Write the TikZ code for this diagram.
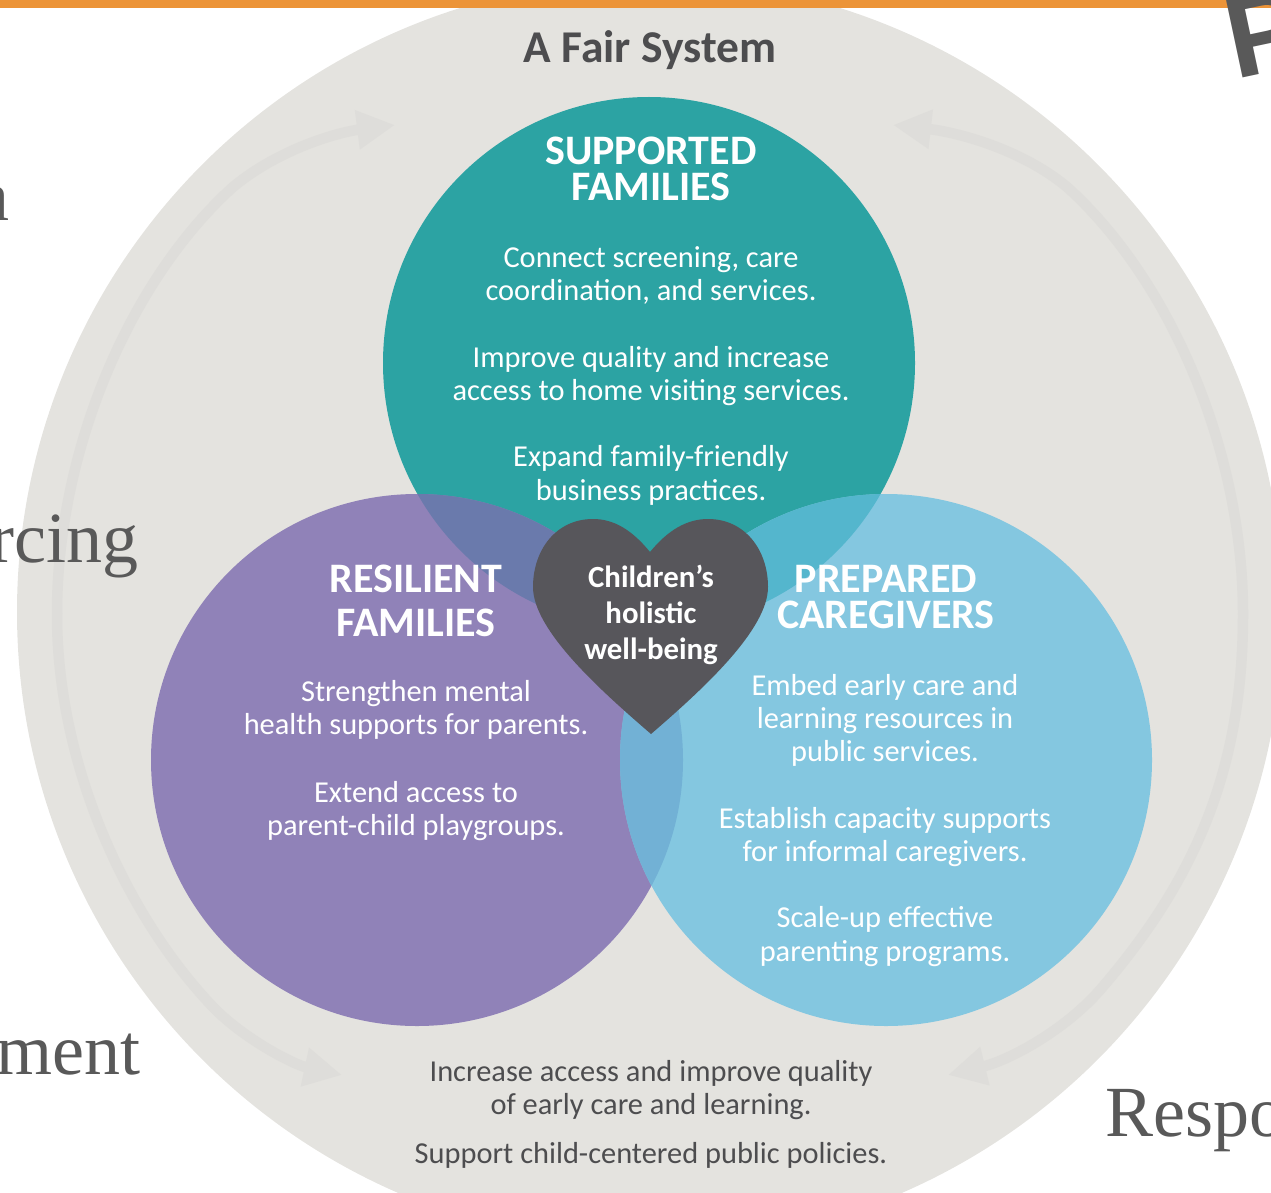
\documentclass[tikz,border=0pt]{standalone}
\usepackage{fontspec}
\usepackage{xcolor}
\usepackage{tikz}
\usetikzlibrary{arrows.meta}
\setmainfont{Carlito}
\newfontfamily\slideserif{Liberation Serif}
\newfontfamily\slidesans{Liberation Sans}
\definecolor{fsOrange}{RGB}{236, 148, 56}
\definecolor{fsRing}{RGB}{228, 227, 223}
\definecolor{fsArrow}{RGB}{222, 221, 218}
\definecolor{fsTeal}{RGB}{44, 163, 163}
\definecolor{fsPurple}{RGB}{144, 130, 184}
\definecolor{fsBlue}{RGB}{132, 199, 224}
\definecolor{fsTealPurple}{RGB}{106, 122, 172}
\definecolor{fsTealBlue}{RGB}{84, 182, 205}
\definecolor{fsPurpleBlue}{RGB}{114, 177, 213}
\definecolor{fsHeart}{RGB}{87, 86, 91}
\definecolor{fsText}{RGB}{77, 77, 79}
\definecolor{fsSlide}{RGB}{89, 89, 89}
\tikzset{
    venn/.style={
        circle,
        minimum size=532pt,
        inner sep=0pt
    },
    heading/.style={
        font=\fontsize{42}{36}\selectfont\bfseries,
        text=white,
        align=center
    },
    body/.style={
        font=\fontsize{30.4}{33}\selectfont,
        text=white,
        align=center
    },
    note/.style={
        font=\fontsize{30.4}{33}\selectfont,
        text=fsText,
        align=center
    },
    slidetext/.style={
        font=\fontsize{72}{72}\selectfont\slideserif,
        text=fsSlide,
        inner sep=0pt
    },
    sweep/.style={
        draw=fsArrow,
        line width=10.5pt,
        -{Triangle[length=38pt, width=37pt]}
    }
}
\begin{document}
\begin{tikzpicture}[x=1pt, y=-1pt]
  \useasboundingbox (0,0) rectangle (1271,1193);
  \clip (0,0) rectangle (1271,1193);

  % Outer ring
  \fill[fsRing] (650,612) circle (633);
  \fill[fsOrange] (0,0) rectangle (1271,8);

  % Cycle arrows
  \coordinate (leftmid) at (57,614);
  \coordinate (rightmid) at (1243,614);
  \coordinate (tlbend) at (233,187);
  \coordinate (trbend) at (1067,187);
  \coordinate (blbend) at (213,1007);
  \coordinate (brbend) at (1100,990);
  \coordinate (tltip) at (395,125);
  \coordinate (trtip) at (893,125);
  \coordinate (bltip) at (342,1075);
  \coordinate (brtip) at (948,1075);
  \draw[sweep] (leftmid) .. controls (57,450) and (130,280) .. (tlbend) .. controls (280,148) and (340,132) .. (tltip);
  \draw[sweep] (rightmid) .. controls (1243,450) and (1170,280) .. (trbend) .. controls (1020,148) and (955,132) .. (trtip);
  \draw[sweep] (leftmid) .. controls (57,770) and (130,920) .. (blbend) .. controls (245,1040) and (295,1065) .. (bltip);
  \draw[sweep] (rightmid) .. controls (1243,770) and (1195,880) .. (brbend) .. controls (1065,1030) and (1010,1060) .. (brtip);

  % Circles
  \node[venn, fill=fsTeal] (supported) at (649,363) {};
  \node[venn, fill=fsPurple] (resilient) at (417,760) {};
  \node[venn, fill=fsBlue] (prepared) at (886,760) {};

  % Overlaps
  \begin{scope}
    \clip (649,363) circle (266);
    \fill[fsTealPurple] (417,760) circle (266);
    \fill[fsTealBlue] (886,760) circle (266);
  \end{scope}
  \begin{scope}
    \clip (417,760) circle (266);
    \fill[fsPurpleBlue] (886,760) circle (266);
  \end{scope}

  % Heart
  \fill[fsHeart] (650,552) .. controls (632,530) and (614,519) .. (593,519)
    .. controls (556,519) and (533,550) .. (533,587)
    .. controls (533,630) and (600,690) .. (651,734)
    .. controls (702,690) and (768,630) .. (768,587)
    .. controls (768,550) and (745,519) .. (708,519)
    .. controls (687,519) and (668,530) .. (650,552) -- cycle;
  \node[font=\fontsize{30.8}{36}\selectfont\bfseries, text=white, align=center] (wellbeing) at (651,615) {Children’s\\holistic\\well-being};

  % Title
  \node[font=\fontsize{45.5}{46}\selectfont\bfseries, text=fsText] (title) at (650,50) {A Fair System};

  % Top circle
  \node[heading] (supportedhead) at (651,169) {SUPPORTED\\FAMILIES};
  \node[body] (screening) at (651,275) {Connect screening, care\\coordination, and services.};
  \node[body] (visiting) at (651,376) {Improve quality and increase\\access to home visiting services.};
  \node[body, font=\fontsize{30.4}{34}\selectfont] (business) at (651,475) {Expand family-friendly\\business practices.};

  % Left circle
  \node[heading, font=\fontsize{42}{44}\selectfont\bfseries] (resilienthead) at (416,601) {RESILIENT\\FAMILIES};
  \node[body] (mental) at (416,710) {Strengthen mental\\health supports for parents.};
  \node[body] (playgroups) at (416,811) {Extend access to\\parent-child playgroups.};

  % Right circle
  \node[heading] (preparedhead) at (886,597) {PREPARED\\CAREGIVERS};
  \node[body] (embed) at (885,720) {Embed early care and\\learning resources in\\public services.};
  \node[body] (capacity) at (885,837) {Establish capacity supports\\for informal caregivers.};
  \node[body, font=\fontsize{30.4}{34}\selectfont] (scaleup) at (885,937) {Scale-up effective\\parenting programs.};

  % Bottom notes
  \node[note] (access) at (651,1090) {Increase access and improve quality\\of early care and learning.};
  \node[note] (policies) at (651,1155) {Support child-centered public policies.};

  % Slide text behind the figure
  \node[slidetext, anchor=base east] (slidea) at (10,220) {a};
  \node[slidetext, anchor=base east] (slidercing) at (139,562) {rcing};
  \node[slidetext, anchor=base east] (slidement) at (141,1074) {ment};
  \node[slidetext, anchor=base west] (sliderespo) at (1105,1136) {Respo};
  \node[font=\fontsize{115}{115}\selectfont\slidesans\bfseries, text=fsSlide, rotate=12, anchor=base west, inner sep=0pt] (slidep) at (1235,80) {P};
\end{tikzpicture}
\end{document}
